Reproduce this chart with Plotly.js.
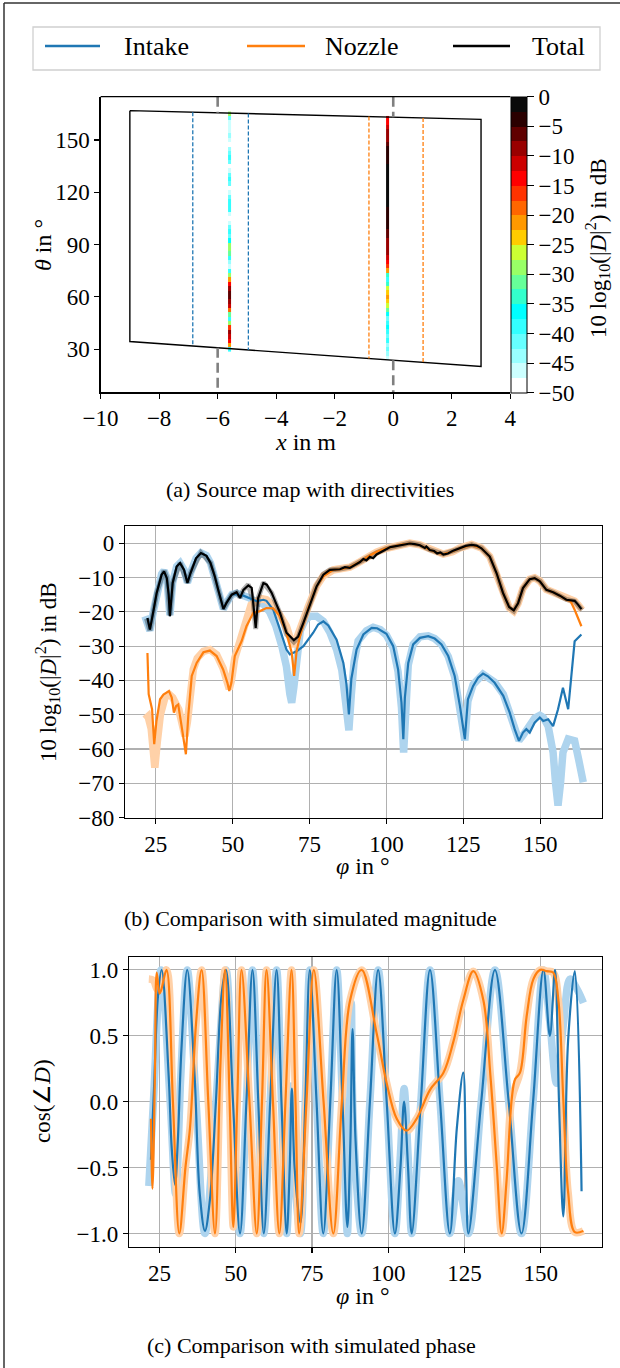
<!DOCTYPE html>
<html><head><meta charset="utf-8">
<script src="https://cdn.plot.ly/plotly-3.0.1.min.js"></script>
<style>html,body{margin:0;padding:0;background:#fff}#plot{width:620px;height:1368px}</style>
</head><body><div id="plot"></div>
<script>
// ---------------- Legend entries ----------------
const legendNames = ['Intake', 'Nozzle', 'Total'];

// ---------------- Panel (a): source map ----------------
const mapCornerX = [-9, 3, 3, -9, -9];
const mapCornerTheta = [166.8, 161.8, 20.1, 34.4, 166.8];
const intakeRegionX = [-6.85, -4.95];
const nozzleRegionX = [-0.83, 1.02];
const sourcePosX = [-6, 0];
const intakeSrcX = -5.6;
const nozzleSrcX = -0.2;
const intakeSrcTheta = [30,32.5,35,37.5,40,42.5,45,47.5,50,52.5,55,57.5,60,62.5,65,67.5,70,72.5,75,77.5,80,82.5,85,87.5,90,92.5,95,97.5,100,102.5,105,107.5,110,112.5,115,117.5,120,122.5,125,127.5,130,132.5,135,137.5,140,142.5,145,147.5,150,152.5,155,157.5,160,162.5,165];
const intakeSrcDb = [-40,-22,-14,-11,-10,-16,-30,-40,-32,-20,-12,-8,-6,-7,-9,-14,-22,-30,-40,-46,-44,-38,-32,-28,-30,-36,-42,-40,-42,-46,-48,-46,-40,-38,-38,-42,-47,-48,-42,-40,-42,-46,-48,-42,-40,-41,-45,-48,-47,-45,-46,-47,-46,-42,-28];
const nozzleSrcTheta = [25,27.5,30,32.5,35,37.5,40,42.5,45,47.5,50,52.5,55,57.5,60,62.5,65,67.5,70,72.5,75,77.5,80,82.5,85,87.5,90,92.5,95,97.5,100,102.5,105,107.5,110,112.5,115,117.5,120,122.5,125,127.5,130,132.5,135,137.5,140,142.5,145,147.5,150,152.5,155,157.5,160,162.5];
const nozzleSrcDb = [-46,-44,-42,-44,-40,-42,-38,-37,-39,-41,-36,-31,-26,-23,-21,-23,-26,-33,-40,-35,-22,-16,-13,-11,-10,-9,-8,-8,-7,-6,-5,-5,-4,-3,-3,-2,-2,-1,-1,-1,-0.5,-1,-1.5,-2,-2,-3,-3.5,-4,-5,-6,-8,-9,-10,-12,-13,-15];
const cbTicks = [0,-5,-10,-15,-20,-25,-30,-35,-40,-45,-50];
const xTicksA = [-10,-8,-6,-4,-2,0,2,4];
const yTicksA = [30,60,90,120,150];

// ---------------- Panel (b): magnitude ----------------
const phiIntake = [22.3,23.1,24.2,25.3,26.9,27.7,28.6,29.2,29.6,30.0,30.5,31.8,32.9,34.2,35.3,36.3,38.1,39.7,41.5,42.8,44.2,45.3,47.0,48.0,49.7,51.3,52.4,53.5,55.1,56.7,57.8,60.0,61.0,63.2,65.4,67.5,68.6,70.8,73.0,74.6,76.2,77.8,79.5,81.1,83.8,86.0,87.0,87.8,88.6,90.3,92.5,95.2,97.0,100.0,102.2,103.8,104.9,105.5,106.0,107.1,108.7,110.9,113.6,115.7,117.9,120.1,122.2,123.9,125.5,126.5,128.2,129.8,131.4,133.0,135.2,138.0,140.1,141.7,143.1,144.4,145.5,146.6,148.2,149.9,151.0,152.6,154.2,155.8,157.4,159.1,160.2,161.2,163.4];
const dbIntake = [-21.8,-25.2,-20.0,-14.5,-9.2,-8.2,-10.2,-15.0,-21.3,-16.0,-11.6,-6.8,-5.8,-7.8,-11.6,-8.7,-4.4,-2.9,-3.7,-5.8,-9.7,-13.6,-19.2,-17.4,-15.0,-14.8,-15.2,-15.3,-15.8,-16.5,-16.9,-16.5,-16.8,-19.4,-25.2,-31.0,-32.4,-31.5,-30.0,-28.1,-26.1,-23.7,-22.8,-24.0,-28.1,-34.9,-41.0,-49.9,-39.5,-31.0,-26.6,-24.7,-24.8,-26.4,-30.0,-36.8,-46.5,-57.1,-45.0,-34.9,-29.5,-27.6,-27.1,-27.8,-29.5,-32.9,-38.7,-47.4,-57.1,-45.5,-41.6,-39.2,-38.0,-38.8,-40.7,-44.5,-49.4,-54.2,-57.6,-55.2,-54.2,-55.2,-52.3,-50.8,-51.8,-51.3,-53.3,-48.4,-42.1,-48.4,-37.8,-28.6,-26.6];
const phiIntakeSim = [21.5,22.5,23.1,24.2,25.3,26.9,27.7,28.6,29.6,30.5,31.8,32.9,34.2,35.3,36.3,38.1,39.7,41.5,42.8,44.2,45.3,47.0,48.0,49.7,51.3,53.5,55.1,57.8,60.0,62.0,64.0,66.0,67.5,68.6,69.2,69.9,70.8,72.0,73.5,75.1,77.3,79.5,81.6,83.8,85.5,86.8,87.8,88.6,89.5,90.8,93.5,95.7,98.0,100.0,102.2,103.8,104.9,105.6,106.3,107.1,108.7,110.9,113.6,115.7,117.9,120.1,122.2,123.9,125.5,126.5,128.2,131.4,135.2,138.0,140.1,141.7,143.1,144.4,146.6,148.2,149.9,151.0,152.6,154.2,155.0,155.8,156.6,157.4,159.1,161.2,162.5,164.0];
const dbIntakeSim = [-21.3,-24.5,-25.5,-20.0,-14.5,-9.0,-8.0,-10.0,-21.0,-11.5,-6.8,-5.8,-7.8,-11.5,-8.7,-4.4,-2.8,-3.6,-5.8,-9.7,-13.6,-19.2,-17.4,-15.0,-14.6,-15.0,-15.8,-17.2,-17.8,-20.0,-24.0,-30.0,-36.0,-44.0,-46.5,-42.0,-33.0,-25.5,-22.5,-21.3,-21.3,-22.8,-26.0,-31.0,-37.0,-46.0,-54.5,-44.0,-34.5,-28.5,-25.5,-24.5,-25.2,-26.8,-30.5,-37.5,-48.0,-61.0,-47.0,-35.5,-29.5,-27.3,-27.0,-27.8,-29.5,-33.0,-39.0,-48.0,-57.5,-46.0,-41.2,-38.2,-40.5,-44.0,-49.0,-54.0,-57.5,-56.0,-53.3,-51.0,-50.2,-50.8,-53.3,-61.0,-70.0,-76.5,-70.0,-61.0,-57.1,-57.6,-63.0,-69.7];
const phiNozzle = [22.3,22.7,23.8,24.5,25.2,26.4,27.5,29.3,30.2,30.9,31.6,32.3,33.4,34.8,35.6,36.7,38.3,40.5,42.6,44.8,46.9,48.3,48.9,49.6,50.7,52.9,54.5,56.7,58.9,61.0,63.2,65.4,67.5,69.2,70.0,70.8,72.4,74.6,77.3,79.5,82.7,85.0,88.1,91.4,94.6,96.8,100.0,104.4,107.6,110.9,114.1,116.5,118.5,121.0,123.9,127.7,130.9,133.6,135.8,137.9,139.9,141.4,142.8,144.4,146.6,148.2,149.9,152.0,154.2,156.4,158.5,159.8,161.2,163.4];
const dbNozzle = [-32.0,-44.0,-48.4,-58.6,-52.0,-45.5,-44.1,-43.1,-45.0,-49.4,-47.5,-47.0,-53.3,-61.5,-50.0,-38.7,-34.9,-31.8,-31.3,-32.9,-36.8,-40.7,-43.1,-40.7,-32.9,-28.6,-24.2,-20.3,-19.8,-18.9,-19.0,-21.3,-26.1,-31.9,-38.7,-31.5,-25.2,-18.9,-12.6,-9.7,-7.8,-7.6,-7.0,-5.4,-3.6,-2.5,-1.5,-0.5,-0.1,-0.6,-1.9,-2.8,-3.2,-2.6,-1.5,-0.5,-1.5,-3.9,-8.7,-14.5,-18.6,-19.6,-17.5,-13.1,-10.5,-10.2,-11.1,-13.6,-14.3,-15.3,-16.5,-16.8,-19.4,-24.2];
const phiNozzleSim = [21.5,22.5,23.5,24.7,25.5,26.5,28.0,29.3,30.5,31.2,32.5,33.4,34.5,35.3,36.2,37.2,38.5,40.5,42.6,44.8,46.9,48.3,48.9,49.6,50.7,52.9,54.5,56.0,57.8,59.5,61.0,63.0,65.4,67.5,69.0,69.7,70.5,72.0,74.6,77.3,79.5,82.7,85.0,88.1,91.4,94.6,96.8,100.0,104.4,107.6,110.9,114.1,118.5,121.5,123.9,127.7,130.9,133.6,135.8,137.9,139.9,141.4,142.8,144.4,146.6,148.2,149.9,152.0,154.2,156.4,158.5,161.2,162.3,163.6];
const dbNozzleSim = [-51.3,-50.5,-54.0,-65.4,-58.0,-50.0,-45.0,-44.0,-45.0,-46.5,-48.5,-52.0,-56.2,-52.0,-44.0,-36.8,-33.5,-31.5,-31.0,-32.5,-36.5,-40.5,-42.5,-40.0,-33.5,-27.0,-21.3,-18.0,-16.9,-16.2,-16.5,-18.0,-21.0,-24.2,-28.5,-30.0,-28.5,-24.5,-18.5,-12.5,-9.5,-7.8,-7.5,-7.0,-5.4,-3.7,-2.6,-1.5,-0.5,0.0,-0.5,-1.8,-3.2,-2.5,-1.4,-0.4,-1.4,-3.9,-8.7,-14.5,-18.8,-19.8,-17.6,-13.2,-10.5,-10.1,-11.0,-13.5,-14.3,-15.3,-16.4,-16.9,-18.0,-19.5];
const phiTotal = [22.3,23.1,24.2,25.3,26.9,27.7,28.6,29.2,29.6,30.0,30.5,31.8,32.9,34.2,35.3,36.3,38.1,39.7,41.5,42.8,44.2,45.3,47.0,48.0,49.7,51.3,52.4,53.5,55.1,56.2,56.7,57.5,58.3,60.0,61.1,62.7,65.4,67.5,69.9,71.3,73.0,75.1,77.3,79.5,81.6,84.9,86.5,88.1,89.5,91.4,92.5,93.5,94.6,95.7,96.8,98.0,99.0,100.0,101.1,102.2,104.4,106.0,107.6,109.2,110.9,112.5,113.0,114.1,115.5,116.5,117.5,118.5,120.0,121.5,123.9,125.8,127.7,129.3,130.9,133.6,135.8,137.9,139.9,141.4,142.8,144.4,146.6,148.2,149.9,152.0,154.2,156.4,158.5,161.2,162.3,163.4];
const dbTotal = [-21.8,-25.2,-20.0,-14.5,-9.2,-8.2,-10.2,-15.0,-21.3,-16.0,-11.6,-6.8,-5.8,-7.8,-11.6,-8.7,-4.4,-2.9,-3.7,-5.8,-9.7,-13.6,-19.2,-17.4,-15.0,-14.3,-16.0,-13.6,-12.3,-13.0,-17.4,-24.7,-16.0,-11.6,-12.1,-14.5,-20.3,-26.1,-28.3,-27.2,-23.2,-17.9,-12.6,-9.2,-7.8,-7.6,-7.0,-7.2,-6.4,-5.5,-4.6,-5.0,-4.0,-4.4,-3.3,-2.7,-2.3,-1.8,-1.2,-1.0,-0.6,-0.2,-0.1,-0.3,-0.6,-1.4,-1.0,-2.0,-2.3,-3.0,-2.7,-3.3,-3.0,-2.3,-1.5,-0.8,-0.5,-0.7,-1.5,-3.9,-8.7,-14.5,-18.6,-19.6,-17.5,-13.1,-10.5,-10.2,-11.1,-13.6,-14.3,-15.3,-16.5,-16.8,-17.9,-19.2];
const phiTotalSim = [22.0,23.1,25.3,27.7,28.6,29.6,30.5,32.9,35.3,36.3,39.7,42.8,45.3,47.0,49.7,51.3,52.4,53.5,55.1,56.7,57.5,58.3,60.0,62.7,65.4,67.5,69.9,71.3,73.0,75.1,77.3,79.5,81.6,84.9,88.1,91.4,94.6,96.8,100.0,104.4,107.6,110.9,114.1,118.5,121.5,123.9,127.7,130.9,133.6,135.8,137.9,139.9,141.4,142.8,144.4,146.6,148.2,149.9,152.0,154.2,156.4,158.5,161.2,162.3,163.6];
const dbTotalSim = [-22.0,-25.5,-14.5,-8.0,-10.0,-21.0,-11.5,-5.8,-11.5,-8.7,-2.8,-5.8,-13.6,-19.2,-15.0,-14.3,-15.8,-13.6,-12.0,-17.0,-25.0,-16.0,-11.5,-14.5,-20.5,-26.5,-28.8,-27.5,-23.0,-17.5,-12.3,-9.0,-7.8,-7.5,-7.0,-5.4,-3.8,-2.8,-1.6,-0.5,0.0,-0.5,-1.9,-3.2,-2.4,-1.4,-0.4,-1.4,-3.9,-8.7,-14.5,-18.8,-19.8,-17.6,-13.2,-10.5,-10.1,-11.0,-13.5,-14.3,-15.3,-16.4,-16.9,-18.0,-19.5];

// ---------------- Panel (c): phase ----------------
const phiIntakePh = [22.2,23.2,24.5,25.7,28.0,29.0,30.1,31.0,32.2,34.1,36.5,38.2,39.9,41.5,43.5,45.3,46.8,49.1,51.4,53.5,55.5,57.4,59.2,61.3,63.4,65.0,66.7,67.7,68.4,69.3,71.2,72.8,74.3,76.5,78.7,81.0,83.1,85.0,86.6,87.6,88.3,89.3,91.3,94.0,96.7,99.5,102.2,104.0,105.2,106.5,107.7,110.7,113.7,117.0,120.2,122.5,124.6,125.5,126.3,130.5,135.0,139.5,143.7,147.5,150.9,153.0,154.7,156.0,157.4,159.0,161.2,163.4];
const cosIntakePh = [-0.44,0.1,0.8,1.0,0.2,-0.35,-0.63,-0.3,0.4,1.0,0.2,-0.7,-0.98,-0.75,0.0,0.8,1.0,0.0,-1.0,0.0,1.0,0.0,-1.0,0.0,1.0,0.0,-1.0,-0.5,0.1,-0.5,-0.92,0.0,1.0,0.0,-1.0,0.0,1.0,0.0,-0.95,-0.3,0.55,-0.3,-1.0,0.0,1.0,0.0,-1.0,-0.5,0.0,-0.5,-1.0,0.0,1.0,0.0,-1.0,-0.2,0.22,-0.5,-1.0,0.0,1.0,0.0,-1.0,0.0,1.0,0.5,1.0,0.0,-0.87,0.47,0.99,-0.68];
const phiIntakePhSim = [21.5,23.0,25.5,28.5,30.3,32.0,34.1,37.0,39.9,43.5,46.8,49.1,51.4,53.5,55.5,57.4,59.2,61.3,63.4,65.0,66.7,67.6,68.3,69.1,71.2,72.8,74.3,76.5,78.7,81.0,83.1,85.0,86.6,87.3,87.9,88.6,91.3,94.0,96.7,99.5,102.2,104.0,105.2,106.5,107.7,110.7,113.7,117.0,120.2,123.0,126.3,130.5,135.0,139.5,143.7,147.5,150.9,153.0,155.2,157.5,159.6,162.0,164.0];
const cosIntakePhSim = [-0.64,0.0,1.0,0.0,-0.7,0.2,1.0,0.0,-1.0,0.0,1.0,0.0,-1.0,0.0,1.0,0.0,-1.0,0.0,1.0,0.0,-1.0,-0.5,0.12,-0.5,-1.0,0.0,1.0,0.0,-1.0,0.0,1.0,0.0,-1.0,-0.2,0.75,-0.2,-1.0,0.0,1.0,0.0,-1.0,-0.4,0.1,-0.4,-1.0,0.0,1.0,0.0,-1.0,-0.6,-1.0,0.0,1.0,0.0,-1.0,0.0,1.0,0.6,0.14,0.6,0.93,0.85,0.75];
const phiNozzlePh = [22.2,22.7,23.5,24.1,25.0,25.6,27.3,29.4,31.5,33.5,35.0,37.0,38.8,41.0,43.2,45.0,46.5,48.0,49.2,50.5,51.9,54.5,56.9,58.6,60.1,62.2,64.3,66.3,68.3,69.6,70.8,73.2,75.6,78.8,82.0,84.8,87.5,91.3,96.2,99.5,102.8,106.0,109.3,113.7,118.1,121.3,124.6,127.9,131.2,133.5,135.6,137.2,138.8,140.5,141.6,143.2,145.4,147.6,149.8,152.0,154.1,155.8,157.4,159.0,161.2,164.0];
const cosNozzlePh = [-0.13,-0.66,0.2,0.98,0.82,0.85,1.0,0.0,-1.0,-0.5,-0.2,0.6,1.0,0.0,-1.0,0.3,1.0,0.0,-0.95,0.0,1.0,0.0,-1.0,0.0,1.0,0.0,-1.0,0.0,1.0,0.0,-1.0,0.0,1.0,0.0,-1.0,0.0,0.77,1.0,0.52,0.14,-0.13,-0.22,-0.13,0.09,0.22,0.45,0.77,0.99,0.77,0.2,-0.49,-1.0,-0.6,0.02,0.17,0.22,0.65,0.93,1.0,0.99,0.98,0.77,0.02,-0.69,-0.99,-0.98];
const phiNozzlePhSim = [21.5,23.0,24.3,25.2,27.3,29.4,31.5,33.5,35.0,37.0,38.8,41.0,43.2,45.0,46.5,48.0,49.2,50.5,51.9,54.5,56.9,58.6,60.1,62.2,64.3,66.3,68.3,69.6,70.8,73.2,75.6,78.8,82.0,84.8,87.5,91.3,96.2,99.5,102.8,106.0,109.3,113.7,118.1,121.3,124.6,127.9,131.2,133.5,135.6,137.2,138.8,140.5,143.2,145.4,147.6,149.8,152.0,154.1,155.8,157.4,159.0,161.2,164.0];
const cosNozzlePhSim = [0.93,0.92,0.85,0.85,1.0,0.0,-1.0,-0.5,-0.2,0.6,1.0,0.0,-1.0,0.3,1.0,0.0,-0.95,0.0,1.0,0.0,-1.0,0.0,1.0,0.0,-1.0,0.0,1.0,0.0,-1.0,0.0,1.0,0.0,-1.0,0.0,0.77,1.0,0.52,0.14,-0.13,-0.22,-0.13,0.09,0.22,0.45,0.77,0.99,0.77,0.2,-0.49,-1.0,-0.6,0.02,0.22,0.65,0.93,1.0,0.99,0.98,0.77,0.02,-0.69,-0.99,-0.98];
const xTicksBC = [25,50,75,100,125,150];

// ---------------- styling ----------------
const FONT = 'Liberation Serif';
const C_INTAKE = '#1f77b4', C_NOZZLE = '#ff7f0e', C_TOTAL = '#000000';
const C_INTAKE_SIM = '#aed4ee', C_NOZZLE_SIM = '#ffd1a8', C_TOTAL_SIM = 'rgba(0,0,0,0.30)';
const legendColors = [C_INTAKE, C_NOZZLE, C_TOTAL];
const bandColors = ['#ffffff','#ccffff','#99ffff','#66ffff','#33ffff','#00ffff','#33ffcc','#66ff99','#99ff66','#ccff33','#ffcc00','#ff9900','#ff6600','#ff3300','#ff0000','#cc0000','#990000','#600000','#2a0000','#0a0a0a'];
const colorscale = [];
bandColors.forEach((c, i) => { colorscale.push([i / bandColors.length, c]); colorscale.push([(i + 1) / bandColors.length, c]); });

const W = 620, H = 1368;
const px = v => v / W, py = v => 1 - v / H;

function edgeTheta(x, a, b) {
  const x0 = mapCornerX[a], x1 = mapCornerX[b], t0 = mapCornerTheta[a], t1 = mapCornerTheta[b];
  return t0 + (x - x0) * (t1 - t0) / (x1 - x0);
}
const yRangeA = [5.3, 174.8];
const noHover = {hoverinfo:'skip', showlegend:false};

const traces = [];
traces.push(Object.assign({type:'heatmap', x0:intakeSrcX, dx:0.09, y:intakeSrcTheta, z:intakeSrcDb.map(v=>[v]), coloraxis:'coloraxis', xaxis:'x', yaxis:'y', zsmooth:false}, noHover));
traces.push(Object.assign({type:'heatmap', x0:nozzleSrcX, dx:0.09, y:nozzleSrcTheta, z:nozzleSrcDb.map(v=>[v]), coloraxis:'coloraxis', xaxis:'x', yaxis:'y', zsmooth:false}, noHover));
traces.push(Object.assign({type:'scatter', mode:'lines', x:mapCornerX, y:mapCornerTheta, line:{color:'#000', width:1.4}, xaxis:'x', yaxis:'y'}, noHover));
intakeRegionX.forEach(x => traces.push(Object.assign({type:'scatter', mode:'lines', x:[x,x], y:[edgeTheta(x,0,1), edgeTheta(x,3,2)], line:{color:C_INTAKE, width:1.3, dash:'4px,2px'}, xaxis:'x', yaxis:'y'}, noHover)));
nozzleRegionX.forEach(x => traces.push(Object.assign({type:'scatter', mode:'lines', x:[x,x], y:[edgeTheta(x,0,1), edgeTheta(x,3,2)], line:{color:C_NOZZLE, width:1.3, dash:'4px,2px'}, xaxis:'x', yaxis:'y'}, noHover)));
sourcePosX.forEach(x => {
  traces.push(Object.assign({type:'scatter', mode:'lines', x:[x,x], y:[yRangeA[1], edgeTheta(x,0,1)], line:{color:'#808080', width:2.6, dash:'10px,5px'}, xaxis:'x', yaxis:'y'}, noHover));
  traces.push(Object.assign({type:'scatter', mode:'lines', x:[x,x], y:[edgeTheta(x,3,2), yRangeA[0]], line:{color:'#808080', width:2.6, dash:'10px,5px'}, xaxis:'x', yaxis:'y'}, noHover));
});

const simW = 7.5, measW = 2.2;
traces.push(Object.assign({type:'scatter', mode:'lines', x:phiIntakeSim, y:dbIntakeSim, line:{color:C_INTAKE_SIM, width:simW}, xaxis:'x2', yaxis:'y2'}, noHover));
traces.push(Object.assign({type:'scatter', mode:'lines', x:phiNozzleSim, y:dbNozzleSim, line:{color:C_NOZZLE_SIM, width:simW}, xaxis:'x2', yaxis:'y2'}, noHover));
traces.push(Object.assign({type:'scatter', mode:'lines', x:phiTotalSim, y:dbTotalSim, line:{color:C_TOTAL_SIM, width:5}, xaxis:'x2', yaxis:'y2'}, noHover));
traces.push(Object.assign({type:'scatter', mode:'lines', name:legendNames[0], x:phiIntake, y:dbIntake, line:{color:C_INTAKE, width:measW}, xaxis:'x2', yaxis:'y2'}, noHover));
traces.push(Object.assign({type:'scatter', mode:'lines', name:legendNames[1], x:phiNozzle, y:dbNozzle, line:{color:C_NOZZLE, width:measW}, xaxis:'x2', yaxis:'y2'}, noHover));
traces.push(Object.assign({type:'scatter', mode:'lines', name:legendNames[2], x:phiTotal, y:dbTotal, line:{color:C_TOTAL, width:measW}, xaxis:'x2', yaxis:'y2'}, noHover));

const spl = {shape:'spline', smoothing:1};
traces.push(Object.assign({type:'scatter', mode:'lines', x:phiIntakePhSim, y:cosIntakePhSim, line:Object.assign({color:C_INTAKE_SIM, width:simW}, spl), xaxis:'x3', yaxis:'y3'}, noHover));
traces.push(Object.assign({type:'scatter', mode:'lines', x:phiNozzlePhSim, y:cosNozzlePhSim, line:Object.assign({color:C_NOZZLE_SIM, width:simW}, spl), xaxis:'x3', yaxis:'y3'}, noHover));
traces.push(Object.assign({type:'scatter', mode:'lines', x:phiIntakePh, y:cosIntakePh, line:Object.assign({color:C_INTAKE, width:measW}, spl), xaxis:'x3', yaxis:'y3'}, noHover));
traces.push(Object.assign({type:'scatter', mode:'lines', x:phiNozzlePh, y:cosNozzlePh, line:Object.assign({color:C_NOZZLE, width:measW}, spl), xaxis:'x3', yaxis:'y3'}, noHover));

const tickFont = () => ({family:FONT, size:23, color:'#000'});
const axBase = () => ({showline:true, linecolor:'#000', linewidth:1.2, mirror:true, ticks:'outside', ticklen:5, tickwidth:1.1, tickcolor:'#000', tickfont:tickFont(), zeroline:false, fixedrange:true});
const gridOn = {showgrid:true, gridcolor:'#b0b0b0', gridwidth:1.2};

const ann = (text, x, y, size, angle, xanchor) => ({text, x:px(x), y:py(y), xref:'paper', yref:'paper', xanchor:xanchor||'center', yanchor:'middle', showarrow:false, textangle:angle||0, font:{family:FONT, size:size, color:'#000'}});

// manual legend (box, sample lines, labels)
const legendLineX = [[45,100],[247,305],[453,510]];
const legendTextX = [122, 323, 530];
const legendShapes = [{type:'rect', xref:'paper', yref:'paper', x0:px(33), x1:px(600), y0:py(27), y1:py(70), line:{color:'#d0d0d0', width:1.3}, fillcolor:'#ffffff'}];
legendLineX.forEach((p, i) => legendShapes.push({type:'line', xref:'paper', yref:'paper', x0:px(p[0]), x1:px(p[1]), y0:py(46), y1:py(46), line:{color:legendColors[i], width:2.6}}));
const legendAnn = legendNames.map((n, i) => ann(n, legendTextX[i], 47, 26, 0, 'left'));

const layout = {
  width:W, height:H, margin:{l:0, r:0, t:0, b:0}, paper_bgcolor:'#fff', plot_bgcolor:'#fff',
  font:{family:FONT, size:22, color:'#000'},
  showlegend:false,
  coloraxis:{colorscale:colorscale, cmin:-50, cmax:0, colorbar:{x:px(510.5), xanchor:'left', y:py(96.7), yanchor:'top', len:(392.3-96.7)/H, lenmode:'fraction', thickness:16, thicknessmode:'pixels', outlinecolor:'#000', outlinewidth:1, tickvals:cbTicks, ticks:'outside', ticklen:7, tickcolor:'#000', tickfont:tickFont(), xpad:0, ypad:0, borderwidth:0}},
  xaxis:Object.assign(axBase(), {domain:[px(100.6), px(510.3)], anchor:'y', range:[-10, 4], tickvals:xTicksA, showgrid:false, mirror:false}),
  yaxis:Object.assign(axBase(), {domain:[py(392.3), py(96.7)], anchor:'x', range:yRangeA, tickvals:yTicksA, showgrid:false, mirror:false}),
  xaxis2:Object.assign(axBase(), gridOn, {domain:[px(125), px(601.7)], anchor:'y2', range:[15, 170], tickvals:xTicksBC}),
  yaxis2:Object.assign(axBase(), gridOn, {domain:[py(817.7), py(526)], anchor:'x2', range:[-80, 5], dtick:10, tick0:0}),
  xaxis3:Object.assign(axBase(), gridOn, {domain:[px(129), px(601.7)], anchor:'y3', range:[15, 170], tickvals:xTicksBC}),
  yaxis3:Object.assign(axBase(), gridOn, {domain:[py(1246.7), py(956.7)], anchor:'x3', range:[-1.1, 1.1], dtick:0.5, tick0:0, tickformat:'.1f'}),
  shapes:[
    {type:'line', xref:'paper', yref:'paper', x0:px(4), x1:px(4), y0:py(3), y1:0, line:{color:'#333', width:1.5}},
    {type:'line', xref:'paper', yref:'paper', x0:px(4), x1:1, y0:py(3), y1:py(3), line:{color:'#333', width:1.5}},
    {type:'line', xref:'paper', yref:'paper', x0:px(100.6), x1:px(510.3), y0:py(96.7), y1:py(96.7), line:{color:'#000', width:1.2}}
  ].concat(legendShapes),
  annotations:[
    ann('<i>θ</i> in °', 43, 245, 24, -90),
    ann('<i>x</i> in m', 305, 442, 24),
    ann('10 log<sub>10</sub>(|<i>D</i>|<sup>2</sup>) in dB', 597, 248, 23, -90),
    ann('(a) Source map with directivities', 310, 490, 22),
    ann('10 log<sub>10</sub>(|<i>D</i>|<sup>2</sup>) in dB', 47, 672, 23, -90),
    ann('<i>φ</i> in °', 363, 866, 24),
    ann('(b) Comparison with simulated magnitude', 310, 918, 22),
    ann('cos(∠<i>D</i>)', 42, 1101, 23, -90),
    ann('<i>φ</i> in °', 363, 1296, 24),
    ann('(c) Comparison with simulated phase', 312, 1345, 22)
  ].concat(legendAnn)
};
Plotly.newPlot('plot', traces, layout, {staticPlot:true, displayModeBar:false});
</script></body></html>
